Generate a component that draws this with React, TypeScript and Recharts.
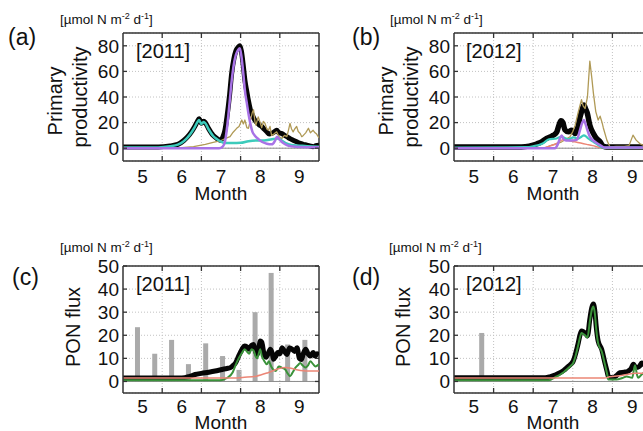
import { ComposedChart, Line, Bar, XAxis, YAxis, CartesianGrid, ReferenceLine } from "recharts";

const FONT = '"Liberation Sans", Arial, Helvetica, sans-serif';

// month axis: labels sit mid-month, grid/ticks on month boundaries
const monthLabels = [5, 6, 7, 8, 9];
const monthEdges = [5.5, 6.5, 7.5, 8.5];
const monthDomain: [number, number] = [4.5, 9.5];

const ppTicks = [0, 20, 40, 60, 80];
const ppDomain: [number, number] = [-10, 90];
const ponTicks = [0, 10, 20, 30, 40, 50];
const ponDomain: [number, number] = [-5, 50];

type Pt = [number, number];

// primary productivity 2011 [month, value]
const pp2011Total: Pt[] = [[4.5, 1], [5.4, 1], [5.7, 1.8], [5.9, 3], [6.05, 6], [6.15, 9], [6.25, 13], [6.33, 17], [6.4, 21], [6.44, 23], [6.5, 19.5], [6.56, 21], [6.6, 20], [6.68, 15.5], [6.8, 10], [6.9, 7.5], [6.98, 6.3], [7.05, 9], [7.1, 14], [7.15, 24], [7.22, 42], [7.27, 58], [7.33, 70], [7.38, 76], [7.44, 79], [7.48, 80], [7.52, 76], [7.57, 64], [7.61, 53], [7.66, 44], [7.7, 37], [7.75, 30], [7.8, 26], [7.86, 22], [7.92, 20], [7.98, 18], [8.04, 17], [8.1, 15], [8.17, 12.8], [8.23, 11], [8.29, 11.5], [8.35, 12.5], [8.42, 14], [8.48, 12], [8.55, 11.5], [8.62, 10], [8.68, 9], [8.76, 7.5], [8.84, 6.3], [8.93, 5], [9.02, 3.7], [9.1, 3], [9.19, 2.4], [9.27, 1.8], [9.35, 1.2], [9.42, 2], [9.5, 2.4]];
const pp2011Teal: Pt[] = [[4.5, 0.6], [5.4, 0.6], [5.7, 1.5], [5.9, 2.8], [6.05, 5.5], [6.15, 8.5], [6.25, 12.5], [6.33, 16.5], [6.4, 20.5], [6.44, 22], [6.5, 19], [6.56, 20.5], [6.6, 19.5], [6.68, 15], [6.8, 9.5], [6.9, 7], [6.98, 5.5], [7.1, 4], [7.3, 4], [7.5, 4.2], [7.7, 5.5], [7.9, 6], [8.1, 6], [8.3, 7], [8.45, 7.5], [8.55, 6], [8.65, 4], [8.8, 2.5], [9.0, 2], [9.2, 1.5], [9.5, 1.2]];
const pp2011Purple: Pt[] = [[4.5, 0], [6.95, 0], [7.05, 1.5], [7.1, 5], [7.15, 15], [7.22, 36], [7.27, 52], [7.33, 66], [7.38, 73], [7.44, 77], [7.48, 78], [7.52, 72], [7.57, 58], [7.61, 45], [7.66, 35], [7.7, 27], [7.75, 19], [7.8, 13], [7.86, 10], [7.92, 8], [8.04, 5], [8.17, 3.5], [8.3, 3], [8.38, 6], [8.43, 9], [8.5, 6.5], [8.57, 4.5], [8.68, 2.4], [8.8, 1.5], [9.0, 1], [9.5, 0.8]];
const pp2011Olive: Pt[] = [[4.5, 0], [5.8, 0], [6.0, 0.5], [6.3, 1.2], [6.6, 3], [6.8, 4.5], [7.0, 6], [7.15, 8], [7.23, 9], [7.31, 12.5], [7.4, 15.5], [7.46, 17], [7.53, 22], [7.57, 19], [7.61, 22], [7.66, 16], [7.7, 15.5], [7.75, 22], [7.8, 28], [7.83, 30], [7.87, 20], [7.89, 18], [7.95, 24.5], [8.0, 20], [8.04, 16], [8.08, 21], [8.12, 19.5], [8.17, 15], [8.21, 14], [8.25, 17], [8.29, 10], [8.35, 11], [8.42, 12.8], [8.48, 9], [8.55, 7.6], [8.62, 10], [8.68, 9], [8.72, 14], [8.76, 19.4], [8.8, 15], [8.84, 12.8], [8.88, 15], [8.93, 17], [8.97, 13], [9.02, 11.5], [9.06, 9], [9.1, 10], [9.16, 12], [9.23, 15.6], [9.28, 12], [9.35, 14], [9.4, 12], [9.44, 11], [9.5, 8]];

// primary productivity 2012
const pp2012Total: Pt[] = [[4.5, 1], [6.2, 1], [6.4, 1.6], [6.5, 2.4], [6.6, 3.5], [6.71, 5], [6.84, 7.6], [6.97, 9.5], [7.05, 11], [7.1, 13], [7.15, 18], [7.2, 21.5], [7.25, 20], [7.3, 14.5], [7.39, 12.8], [7.47, 14], [7.56, 11.5], [7.6, 14], [7.64, 18], [7.68, 24], [7.72, 28.6], [7.78, 33.8], [7.82, 31], [7.86, 28], [7.93, 18], [8.02, 11.5], [8.1, 7.6], [8.19, 5], [8.27, 1.5], [8.35, 1], [9.5, 1]];
const pp2012Teal: Pt[] = [[4.5, 0.5], [6.3, 0.8], [6.5, 1.5], [6.74, 3.7], [6.9, 7], [7.09, 7.6], [7.22, 9], [7.3, 8], [7.39, 7], [7.52, 8.5], [7.64, 7.5], [7.72, 9], [7.78, 10], [7.84, 9], [7.89, 7.6], [8.02, 5], [8.19, 1.5], [8.27, 0.5], [9.5, 0.5]];
const pp2012Purple: Pt[] = [[4.5, 0], [7.05, 0], [7.12, 3], [7.18, 8], [7.22, 10], [7.27, 7], [7.33, 6], [7.45, 6], [7.6, 6.5], [7.68, 14], [7.74, 20], [7.78, 22], [7.82, 19], [7.86, 15], [7.93, 9], [8.06, 5], [8.19, 2.4], [8.3, 0.5], [9.5, 0.5]];
const pp2012Olive: Pt[] = [[4.5, 0], [6.8, 0], [6.93, 2], [7.1, 3.5], [7.22, 5], [7.3, 6.5], [7.43, 9], [7.5, 13], [7.56, 18], [7.64, 28.6], [7.72, 38], [7.76, 33], [7.81, 31], [7.87, 40], [7.93, 68], [7.98, 55], [8.02, 43], [8.08, 28.6], [8.14, 22], [8.19, 25], [8.24, 20], [8.27, 16], [8.36, 6.3], [8.44, 1], [8.6, 1.5], [8.8, 1.5], [8.92, 2], [9.02, 10.2], [9.1, 6.3], [9.19, 3.7], [9.27, 2.4], [9.5, 2]];
const pp2012Salmon: Pt[] = [[4.5, 0], [6.75, 0], [6.84, 1], [7.0, 2.5], [7.09, 3.7], [7.22, 6.3], [7.3, 7], [7.4, 6], [7.55, 5], [7.7, 4], [7.85, 3], [8.0, 2], [8.2, 0.5], [8.3, 0], [9.5, 0]];

// PON flux 2011: trap samples and model lines
const pon2011Trap: Pt[] = [[4.87, 23.5], [5.31, 12], [5.74, 18], [6.17, 7.5], [6.61, 16.5], [7.04, 11], [7.46, 5], [7.87, 30], [8.28, 47], [8.7, 16], [9.14, 18]];
const pon2011Total: Pt[] = [[4.5, 1.5], [6.0, 1.5], [6.2, 2.2], [6.34, 3], [6.5, 3.5], [6.69, 4], [6.85, 4.5], [7.03, 5.2], [7.15, 5.6], [7.24, 6], [7.3, 6.8], [7.37, 8], [7.45, 11], [7.54, 14], [7.6, 15.4], [7.66, 15], [7.72, 14], [7.78, 15.6], [7.83, 16], [7.88, 13], [7.92, 11.7], [7.97, 15], [8.0, 17.5], [8.04, 17], [8.09, 12.5], [8.15, 10.5], [8.2, 12], [8.26, 14], [8.31, 12], [8.34, 9.6], [8.4, 11], [8.45, 12.5], [8.5, 12], [8.56, 14.6], [8.62, 13], [8.68, 11.7], [8.75, 14.5], [8.81, 14], [8.88, 13], [8.94, 14.6], [9.0, 10], [9.05, 9.5], [9.1, 12], [9.16, 14], [9.22, 12], [9.28, 11], [9.35, 12.5], [9.4, 11], [9.45, 12], [9.5, 11.5]];
const pon2011Green: Pt[] = [[4.5, 0.5], [7.0, 0.5], [7.15, 1.5], [7.3, 4], [7.37, 7], [7.45, 10], [7.54, 12.5], [7.6, 14], [7.66, 13], [7.72, 12], [7.78, 14], [7.83, 13.5], [7.88, 11], [7.92, 10], [7.97, 12.5], [8.0, 14], [8.04, 11], [8.1, 9], [8.17, 7.4], [8.22, 8.7], [8.28, 6.5], [8.34, 5], [8.4, 4.5], [8.47, 6.5], [8.55, 6], [8.64, 5.2], [8.7, 3.5], [8.76, 2.3], [8.83, 4], [8.9, 6], [8.96, 7], [9.02, 8], [9.08, 7], [9.15, 6], [9.22, 7], [9.28, 8.7], [9.35, 7.5], [9.41, 6.5], [9.5, 7.4]];
const pon2011Salmon: Pt[] = [[4.5, 1.5], [7.3, 1.5], [7.6, 1.8], [7.9, 2.3], [8.2, 3.8], [8.47, 5.5], [8.64, 6], [8.75, 5.8], [8.9, 5.2], [9.1, 4.6], [9.24, 4.5], [9.5, 4.5]];

// PON flux 2012
const pon2012Trap: Pt[] = [[5.2, 21]];
const pon2012Total: Pt[] = [[4.5, 1.6], [6.8, 1.6], [6.92, 2], [7.05, 2.8], [7.18, 3.8], [7.27, 4.8], [7.35, 6], [7.45, 7.5], [7.51, 8.8], [7.57, 12], [7.64, 16.8], [7.68, 20], [7.72, 21.9], [7.77, 21.5], [7.81, 21], [7.87, 19.7], [7.93, 27], [7.98, 32], [8.02, 33.5], [8.06, 30], [8.09, 24], [8.14, 17.5], [8.23, 13.9], [8.31, 8.1], [8.37, 4], [8.4, 2], [8.52, 1.6], [8.6, 2.5], [8.69, 3.8], [8.8, 4], [8.9, 4.5], [8.97, 5.5], [9.03, 7.4], [9.07, 6.5], [9.11, 6], [9.18, 6.5], [9.24, 8], [9.32, 7], [9.4, 6], [9.5, 6]];
const pon2012Green: Pt[] = [[4.5, 0.5], [6.9, 0.5], [7.05, 1.8], [7.18, 3], [7.27, 4], [7.35, 5.2], [7.45, 6.8], [7.51, 8], [7.57, 11], [7.64, 16], [7.68, 19], [7.72, 21], [7.77, 20.5], [7.81, 20], [7.87, 19], [7.93, 26], [7.98, 31], [8.02, 32.5], [8.06, 29], [8.09, 23], [8.14, 16.5], [8.23, 13], [8.31, 7.5], [8.37, 3], [8.4, 0.8], [8.6, 0.8], [8.75, 1.5], [8.86, 2.2], [9.0, 1.6], [9.07, 7], [9.12, 3], [9.15, 1.6], [9.24, 3], [9.32, 4], [9.5, 4]];
const pon2012Salmon: Pt[] = [[4.5, 1.5], [8.3, 1.5], [8.43, 2], [8.73, 2.6], [9.1, 3.5], [9.24, 3.5], [9.5, 3.5]];

const BLACK = "#050505";
const TEAL = "#3ccbbb";
const PURPLE = "#a873e6";
const OLIVE = "#b09a56";
const SALMON = "#ec8676";
const GREEN = "#3a923a";
const FRAME = "#333";

type Series = { pts: Pt[]; color: string; width: number; linear?: boolean };

const rows = (pts: Pt[]) => pts.map(([m, v]) => ({ m, v }));

// plot box sits at a fixed offset inside every panel
const PLOT_LEFT = 123;
const PLOT_TOP = 33;

type PanelProps = {
  left: number;
  top: number;
  chartW: number;
  chartH: number;
  plotW: number;
  plotH: number;
  domain: [number, number];
  ticks: number[];
  tickGap: number;
  lines: Series[];
  bars?: Pt[];
};

// x tick: integer months get a label, month boundaries get inward marks top and bottom
function MonthTick(props: any) {
  const { x, payload, plotH, gap } = props;
  const v = payload.value as number;
  const bottom = PLOT_TOP + plotH;
  if (Number.isInteger(v)) {
    return (
      <text x={x} y={bottom + gap} dy="0.72em" textAnchor="middle" fontSize={19} fill="#111" fontFamily={FONT}>
        {v}
      </text>
    );
  }
  return (
    <g stroke={FRAME} strokeWidth={1.3}>
      <line x1={x} x2={x} y1={bottom} y2={bottom - 5} />
      <line x1={x} x2={x} y1={PLOT_TOP} y2={PLOT_TOP + 5} />
    </g>
  );
}

// y tick: label on the left, inward marks on both sides of the box
function ValueTick(props: any) {
  const { x, y, payload, plotW } = props;
  const right = PLOT_LEFT + plotW;
  return (
    <g>
      <text x={x} y={y} dy="0.36em" textAnchor="end" fontSize={19} fill="#111" fontFamily={FONT}>
        {payload.value}
      </text>
      <g stroke={FRAME} strokeWidth={1.3}>
        <line x1={PLOT_LEFT} x2={PLOT_LEFT + 4} y1={y} y2={y} />
        <line x1={right - 4} x2={right} y1={y} y2={y} />
      </g>
    </g>
  );
}

function TrapBar(props: any) {
  const { x, y, width, height } = props;
  if (height == null || height <= 0) return null;
  const cx = x + (width || 0) / 2;
  return <rect x={cx - 2.5} y={y} width={5} height={height} fill="#aaaaaa" />;
}

function Panel(p: PanelProps) {
  const margin = { top: PLOT_TOP, left: PLOT_LEFT - 40, right: p.chartW - PLOT_LEFT - p.plotW, bottom: p.chartH - PLOT_TOP - p.plotH - 30 };
  const xTicks = [...monthLabels, ...monthEdges].sort((a, b) => a - b);
  return (
    <div style={{ position: "absolute", left: p.left, top: p.top }}>
      <ComposedChart width={p.chartW} height={p.chartH} data={p.bars ? rows(p.bars) : undefined} margin={margin}>
        <CartesianGrid vertical={false} stroke="#c2c2c2" strokeDasharray="1 2" />
        {monthEdges.map((m) => (
          <ReferenceLine key={m} x={m} stroke="#c2c2c2" strokeDasharray="1 2" />
        ))}
        <XAxis dataKey="m" type="number" domain={monthDomain} allowDataOverflow ticks={xTicks} interval={0}
          height={30} tickSize={0} tickMargin={p.tickGap} tickLine={false}
          axisLine={{ stroke: FRAME, strokeWidth: 1.5 }}
          tick={(t: any) => <MonthTick {...t} plotH={p.plotH} gap={p.tickGap} />} />
        <YAxis type="number" domain={p.domain} allowDataOverflow ticks={p.ticks} interval={0} width={40}
          tickSize={0} tickMargin={4} tickLine={false}
          axisLine={{ stroke: FRAME, strokeWidth: 1.5 }}
          tick={(t: any) => <ValueTick {...t} plotW={p.plotW} />} />
        <ReferenceLine y={p.domain[1]} stroke={FRAME} strokeWidth={1.5} />
        <ReferenceLine x={monthDomain[1]} stroke={FRAME} strokeWidth={1.5} />
        <ReferenceLine y={0} stroke="#8c8c8c" strokeWidth={1} />
        {p.bars && <Bar dataKey="v" barSize={5} shape={TrapBar} isAnimationActive={false} />}
        {p.lines.map((s, i) => (
          <Line key={i} data={rows(s.pts)} dataKey="v" type={s.linear ? "linear" : "monotone"}
            stroke={s.color} strokeWidth={s.width} strokeLinejoin="round" dot={false} activeDot={false} isAnimationActive={false} />
        ))}
      </ComposedChart>
    </div>
  );
}

function Units({ x, y }: { x: number; y: number }) {
  return (
    <text x={x} y={y} fontSize={13.5} fill="#111">
      [µmol N m<tspan dy={-5} fontSize={9}>-2</tspan>
      <tspan dy={5}> d</tspan>
      <tspan dy={-5} fontSize={9}>-1</tspan>
      <tspan dy={5}>]</tspan>
    </text>
  );
}

function VText({ x, y, text }: { x: number; y: number; text: string }) {
  return (
    <text x={x} y={y} transform={`rotate(-90 ${x} ${y})`} textAnchor="middle" fontSize={20} fill="#111">
      {text}
    </text>
  );
}

export default function App() {
  return (
    <div style={{ position: "absolute", left: 0, top: 0, width: 643, height: 431, overflow: "hidden", background: "#fff", fontFamily: FONT }}>
      <Panel left={0} top={0} chartW={330} chartH={215} plotW={196} plotH={128} domain={ppDomain} ticks={ppTicks} tickGap={8}
        lines={[
          { pts: pp2011Total, color: BLACK, width: 5 },
          { pts: pp2011Olive, color: OLIVE, width: 1.3, linear: true },
          { pts: pp2011Teal, color: TEAL, width: 2.5 },
          { pts: pp2011Purple, color: PURPLE, width: 2.5 },
        ]} />
      <Panel left={331} top={0} chartW={332} chartH={215} plotW={198} plotH={128} domain={ppDomain} ticks={ppTicks} tickGap={8}
        lines={[
          { pts: pp2012Total, color: BLACK, width: 5.5 },
          { pts: pp2012Olive, color: OLIVE, width: 1.3, linear: true },
          { pts: pp2012Salmon, color: SALMON, width: 1.5 },
          { pts: pp2012Teal, color: TEAL, width: 2.2 },
          { pts: pp2012Purple, color: PURPLE, width: 2.5 },
        ]} />
      <Panel left={0} top={233} chartW={330} chartH={198} plotW={196} plotH={127} domain={ponDomain} ticks={ponTicks} tickGap={6}
        bars={pon2011Trap}
        lines={[
          { pts: pon2011Total, color: BLACK, width: 5 },
          { pts: pon2011Green, color: GREEN, width: 2 },
          { pts: pon2011Salmon, color: SALMON, width: 1.5 },
        ]} />
      <Panel left={331} top={233} chartW={332} chartH={198} plotW={198} plotH={127} domain={ponDomain} ticks={ponTicks} tickGap={6}
        bars={pon2012Trap}
        lines={[
          { pts: pon2012Total, color: BLACK, width: 5 },
          { pts: pon2012Green, color: GREEN, width: 2 },
          { pts: pon2012Salmon, color: SALMON, width: 1.5 },
        ]} />

      <svg width={643} height={431} style={{ position: "absolute", left: 0, top: 0, pointerEvents: "none" }} fontFamily={FONT}>
        <text x={8} y={45} fontSize={23} fill="#111">(a)</text>
        <text x={352} y={45} fontSize={23} fill="#111">(b)</text>
        <text x={12} y={285} fontSize={23} fill="#111">(c)</text>
        <text x={352} y={285} fontSize={23} fill="#111">(d)</text>

        <Units x={60} y={24} />
        <Units x={390} y={24} />
        <Units x={60} y={252} />
        <Units x={389} y={252} />

        <text x={136} y={58} fontSize={20} fill="#111">[2011]</text>
        <text x={466} y={58} fontSize={20} fill="#111">[2012]</text>
        <text x={136} y={291} fontSize={20} fill="#111">[2011]</text>
        <text x={466} y={291} fontSize={20} fill="#111">[2012]</text>

        <text x={221} y={200} fontSize={19} textAnchor="middle" fill="#111">Month</text>
        <text x={553} y={200} fontSize={19} textAnchor="middle" fill="#111">Month</text>
        <text x={221} y={429} fontSize={19} textAnchor="middle" fill="#111">Month</text>
        <text x={553} y={429} fontSize={19} textAnchor="middle" fill="#111">Month</text>

        <VText x={62} y={101} text="Primary" />
        <VText x={87} y={97} text="productivity" />
        <VText x={393} y={101} text="Primary" />
        <VText x={418} y={97} text="productivity" />
        <VText x={80} y={327} text="PON flux" />
        <VText x={410} y={327} text="PON flux" />
      </svg>
    </div>
  );
}
